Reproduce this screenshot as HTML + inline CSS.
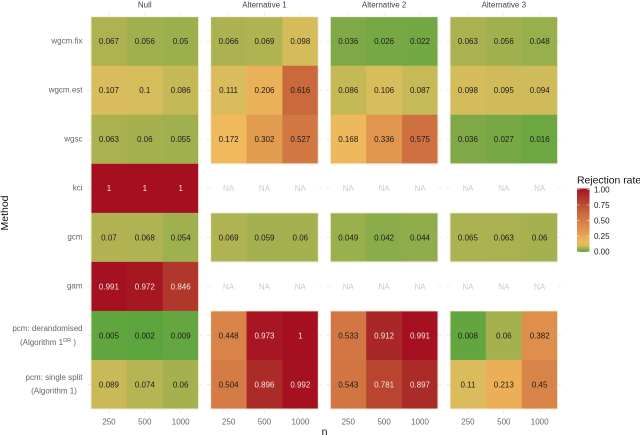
<!DOCTYPE html>
<html>
<head>
<meta charset="utf-8">
<style>
html,body{margin:0;padding:0;background:#fff;}
svg{display:block;font-family:"Liberation Sans",sans-serif;}
</style>
</head>
<body>
<svg id="chart" xmlns="http://www.w3.org/2000/svg" width="640" height="435" viewBox="0 0 640 435">
  <defs>
    <linearGradient id="legend-gradient" x1="0" y1="1" x2="0" y2="0"></linearGradient>
  </defs>
  <text transform="translate(8,213) rotate(-90)" text-anchor="middle" font-size="10.5" fill="#111">Method</text>
  <text x="324.5" y="435" text-anchor="middle" font-size="10.5" fill="#111">n</text>
  <text x="47.5" y="331" text-anchor="middle" font-size="8" fill="#666">pcm: derandomised</text>
  <text x="48" y="345" text-anchor="middle" font-size="8" fill="#666">(Algorithm 1<tspan font-size="5.6" dy="-3">DR</tspan><tspan dy="3"> )</tspan></text>
  <text x="54" y="380" text-anchor="middle" font-size="8" fill="#666">pcm: single split</text>
  <text x="54" y="393.5" text-anchor="middle" font-size="8" fill="#666">(Algorithm 1)</text>
  <text x="577" y="183.5" font-size="10.4" fill="#111">Rejection rate</text>
  <g id="plot"></g>
  <rect x="577" y="188.5" width="12.5" height="63.5" fill="url(#legend-gradient)"></rect>
  <g id="legend"></g>
</svg>
<script>
const panelTitles = ["Null", "Alternative 1", "Alternative 2", "Alternative 3"];
const methods = ["wgcm.fix", "wgcm.est", "wgsc", "kci", "gcm", "gam", "pcm: derandomised", "pcm: single split"];
const sampleSizes = [250, 500, 1000];
const nullValues = [[0.067,0.056,0.05],[0.107,0.1,0.086],[0.063,0.06,0.055],[1,1,1],[0.07,0.068,0.054],[0.991,0.972,0.846],[0.005,0.002,0.009],[0.089,0.074,0.06]];
const alt1Values = [[0.066,0.069,0.098],[0.111,0.206,0.616],[0.172,0.302,0.527],[null,null,null],[0.069,0.059,0.06],[null,null,null],[0.448,0.973,1],[0.504,0.896,0.992]];
const alt2Values = [[0.036,0.026,0.022],[0.086,0.106,0.087],[0.168,0.336,0.575],[null,null,null],[0.049,0.042,0.044],[null,null,null],[0.533,0.912,0.991],[0.543,0.781,0.897]];
const alt3Values = [[0.063,0.056,0.048],[0.098,0.095,0.094],[0.036,0.027,0.016],[null,null,null],[0.065,0.063,0.06],[null,null,null],[0.008,0.06,0.382],[0.11,0.213,0.45]];
const legendTicks = [0, 0.25, 0.5, 0.75, 1];
const colorPositions = [0, 0.02, 0.036, 0.05, 0.06, 0.1, 0.17, 0.3, 0.5, 0.62, 0.78, 0.9, 1];
const colorValues = ["#5aa43c", "#71a843", "#7fa947", "#9bb04d", "#a5b04f", "#d6bd5c", "#efb95c", "#e29c50", "#d57c45", "#c9683c", "#b8452f", "#ab2a28", "#a50f20"];

const panelValues = [nullValues, alt1Values, alt2Values, alt3Values];
const NS = "http://www.w3.org/2000/svg";
const plot = document.getElementById("plot");
const legend = document.getElementById("legend");
const panelLeft = 91, panelWidth = 107.6, panelStep = 119.67, plotTop = 16.7, plotBottom = 409;
const rowHeight = (plotBottom - plotTop) / methods.length;
const colWidth = panelWidth / sampleSizes.length;

function px(p) { return panelLeft + p * panelStep; }
function colX(p, c) { return px(p) + c * colWidth; }
function rowY(r) { return plotTop + r * rowHeight; }
function hexToRgb(h) { return [1, 3, 5].map(function (i) { return parseInt(h.substr(i, 2), 16); }); }
function colorFor(v) {
  let i = 0;
  while (i < colorPositions.length - 2 && v > colorPositions[i + 1]) i++;
  const t = Math.min(1, Math.max(0, (v - colorPositions[i]) / (colorPositions[i + 1] - colorPositions[i])));
  const a = hexToRgb(colorValues[i]), b = hexToRgb(colorValues[i + 1]);
  return "rgb(" + a.map(function (x, k) { return Math.round(x + (b[k] - x) * t); }).join(",") + ")";
}
function node(parent, tag, attrs, txt) {
  const el = document.createElementNS(NS, tag);
  Object.keys(attrs).forEach(function (k) { el.setAttribute(k, attrs[k]); });
  if (txt !== undefined) el.textContent = txt;
  parent.appendChild(el);
  return el;
}
function tickLine(x1, y1, x2, y2) {
  const el = node(plot, "line", { x1: x1, y1: y1, x2: x2, y2: y2, stroke: "#e6e6e6", "stroke-width": 0.8 });
  
  
}

panelTitles.forEach(function (title, p) {
  const t = node(plot, "text", { x: px(p) + panelWidth / 2, y: 7.5, "text-anchor": "middle", "font-size": 8, fill: "#444" }, title);
  
  

  sampleSizes.forEach(function (n, c) {
    const cx = colX(p, c) + colWidth / 2;
    tickLine(cx, 13, cx, 16.5);
    tickLine(cx, 409.5, cx, 413);
    const lab = node(plot, "text", { x: cx, y: 424.5, "text-anchor": "middle", "font-size": 8, fill: "#666" }, n);
    
    
  });

  methods.forEach(function (m, r) {
    const cy = rowY(r) + rowHeight / 2;
    tickLine(px(p) - 3.5, cy, px(p) - 0.5, cy);
    tickLine(px(p) + panelWidth + 0.5, cy, px(p) + panelWidth + 3.5, cy);
    panelValues[p][r].forEach(function (v, c) {
      if (v !== null) {
        const cell = node(plot, "rect", { x: colX(p, c), y: rowY(r), width: colWidth + 0.3, height: rowHeight + 0.3, fill: colorFor(v) });
        
        
      }
    });
  });

  let runStart = -1;
  for (let r = 0; r <= methods.length; r++) {
    const filled = r < methods.length && panelValues[p][r][0] !== null;
    if (filled && runStart < 0) runStart = r;
    if (!filled && runStart >= 0) {
      const o = node(plot, "rect", { x: px(p), y: rowY(runStart), width: panelWidth, height: (r - runStart) * rowHeight, fill: "none", stroke: "#f5f1e0", "stroke-width": 0.9 });
      
      
      runStart = -1;
    }
  }

  methods.forEach(function (m, r) {
    const cy = rowY(r) + rowHeight / 2;
    panelValues[p][r].forEach(function (v, c) {
      const cx = colX(p, c) + colWidth / 2;
      const fill = v === null ? "#cccccc" : (v >= 0.7 ? "#f2e6e6" : "#1c1c1c");
      const lab = node(plot, "text", { x: cx, y: cy + 2.9, "text-anchor": "middle", "font-size": 8, fill: fill }, v === null ? "NA" : String(v));
      
      
    });
  });
});

const singleLine = ["wgcm.fix", "wgcm.est", "wgsc", "kci", "gcm", "gam"];
singleLine.forEach(function (m) {
  const r = methods.indexOf(m);
  const lab = node(plot, "text", { x: 82.5, y: rowY(r) + rowHeight / 2 + 2.2, "text-anchor": "end", "font-size": 8, fill: "#666" }, m);
  
  
});

const grad = document.getElementById("legend-gradient");
for (let i = 0; i < colorPositions.length; i++) {
  const stop = node(grad, "stop", { offset: colorPositions[i], "stop-color": colorValues[i] });
  
  
}

const legendBottom = 251.5, legendTop = 189.5;
function legendY(v) { return legendBottom + (legendTop - legendBottom) * v; }
legendTicks.forEach(function (v) {
  const y = legendY(v);
  const a = node(legend, "line", { x1: 577, x2: 579.5, y1: y, y2: y, stroke: "#fff", "stroke-width": 0.6, "stroke-opacity": 0.8 });
  
  
  const b = node(legend, "line", { x1: 587, x2: 589.5, y1: y, y2: y, stroke: "#fff", "stroke-width": 0.6, "stroke-opacity": 0.8 });
  
  
  const t = node(legend, "text", { x: 594, y: y + 2.9, "font-size": 8, fill: "#222" }, v.toFixed(2));
  
  
});
</script>
</body>
</html>
